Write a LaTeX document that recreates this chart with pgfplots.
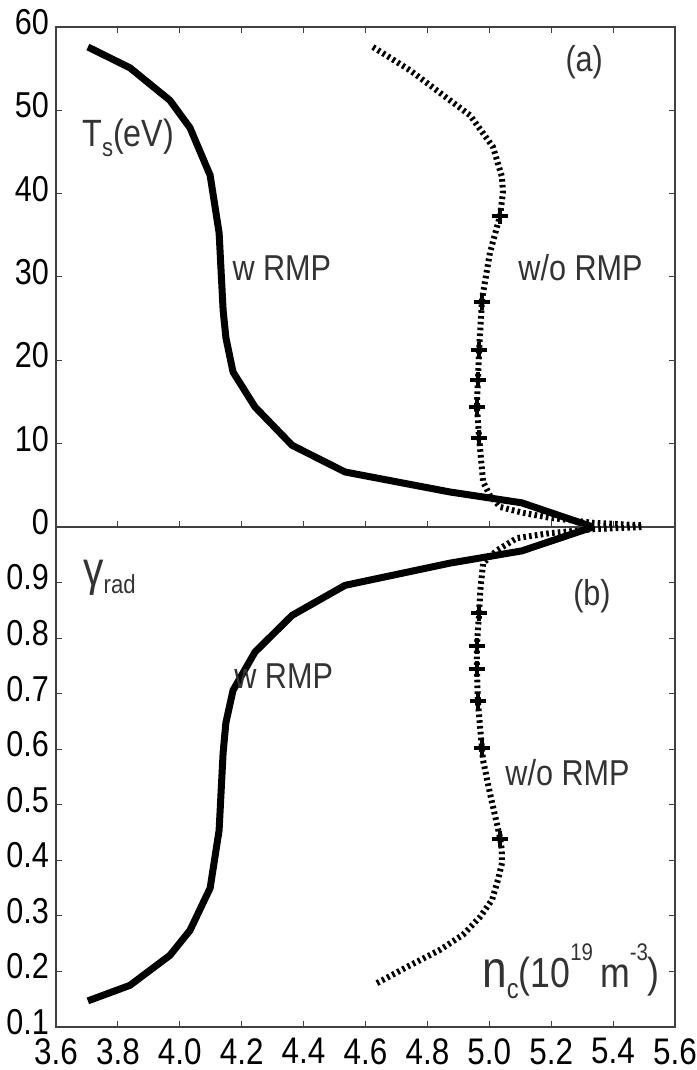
\documentclass[border=0pt]{standalone}
\usepackage{fontspec}
\setmainfont{Liberation Sans}[FakeStretch=0.85]
\usepackage{pgfplots}
\pgfplotsset{compat=1.18}
\definecolor{txt}{HTML}{333333}
\tikzset{lab/.style={anchor=base west, inner sep=0pt, text=txt, font=\fontsize{18}{18}\selectfont}}
\begin{document}
\begin{tikzpicture}
\useasboundingbox (-28pt,-21.5pt) rectangle (320pt,513.5pt);
\pgfplotsset{
  base/.style={
    scale only axis, width=309.5pt, height=250pt,
    xmin=3.6, xmax=5.6, clip=false,
    xtick={3.6,3.8,4.0,4.2,4.4,4.6,4.8,5.0,5.2,5.4,5.6},
    tick align=inside, major tick length=3pt,
    axis line style={line width=0.6pt, black!75},
    tick style={line width=0.5pt, black!75},
    yticklabel style={font=\fontsize{18}{18}\selectfont, text=black, yshift=2.5pt},
    xticklabel style={font=\fontsize{18.5}{18.5}\selectfont, text=black, inner sep=0.5pt, yshift=-5pt},
  },
  wrmp/.style={line width=3.5pt, black, line join=round},
  worm/.style={line width=3pt, black, dash pattern=on 1.3pt off 1.6pt},
  pm/.style={only marks, mark=+, mark size=4pt, mark options={line width=2pt, black}},
}
% ---------- top panel (a) ----------
\begin{axis}[base, at={(0,250pt)}, anchor=south west,
  ymin=0, ymax=60, ytick={0,10,20,30,40,50,60},
  yticklabels={0,10,20,30,40,50,60}, xticklabels={}]
\addplot[wrmp] coordinates {
 (3.703,57.6)(3.839,55.1)(3.968,51.2)(4.033,47.9)(4.098,42.2)(4.127,35.3)
 (4.140,26.0)(4.149,22.7)(4.172,18.6)(4.243,14.4)(4.363,9.8)(4.534,6.6)
 (4.873,4.2)(5.105,2.9)(5.335,0.0)};
\addplot[worm] coordinates {
 (4.624,57.6)(4.744,54.8)(4.873,51.2)(4.938,49.4)(5.012,45.6)(5.041,42.0)
 (5.044,40.1)(5.035,37.4)(5.002,32.9)(4.980,28.1)(4.976,27.0)(4.967,21.2)
 (4.963,17.6)(4.960,14.4)(4.967,10.7)(4.980,5.4)(5.002,3.8)(5.035,2.4)
 (5.109,1.7)(5.196,1.1)(5.335,0.5)(5.497,0.2)};
\addplot[pm] coordinates {
 (5.035,37.3)(4.976,27.0)(4.967,21.2)(4.963,17.6)(4.960,14.4)(4.967,10.7)};
\node[lab] at (axis cs:3.684,45.6) {\fontsize{19}{19}\selectfont T\raisebox{-5pt}{\fontsize{13}{13}\selectfont s}(eV)};
\node[lab] at (axis cs:4.169,29.6) {w RMP};
\node[lab] at (axis cs:5.093,29.6) {w/o RMP};
\node[lab] at (axis cs:5.245,54.6) {(a)};
\end{axis}
% ---------- bottom panel (b) ----------
\begin{axis}[base, at={(0,0)}, anchor=south west,
  ymin=0.1, ymax=1.0, ytick={0.1,0.2,0.3,0.4,0.5,0.6,0.7,0.8,0.9},
  yticklabels={0.1,0.2,0.3,0.4,0.5,0.6,0.7,0.8,0.9},
  xtick pos=left,
  xticklabels={3.6,3.8,4.0,4.2,4.4,4.6,4.8,5.0,5.2,5.4,5.6}]
\addplot[wrmp] coordinates {
 (3.703,0.147)(3.839,0.175)(3.968,0.229)(4.033,0.274)(4.098,0.350)(4.127,0.454)
 (4.140,0.594)(4.149,0.648)(4.172,0.706)(4.243,0.775)(4.363,0.841)(4.534,0.895)
 (4.873,0.935)(5.105,0.957)(5.335,1.0)};
\addplot[worm] coordinates {
 (4.637,0.179)(4.734,0.208)(4.841,0.239)(4.915,0.266)(4.970,0.298)(5.009,0.329)
 (5.028,0.365)(5.041,0.395)(5.040,0.420)(5.035,0.440)(5.002,0.521)(4.980,0.580)(4.976,0.602)
 (4.963,0.687)(4.960,0.744)(4.960,0.787)(4.967,0.845)(4.971,0.886)(4.980,0.935)
 (5.025,0.958)(5.089,0.980)(5.196,0.989)(5.335,0.996)(5.497,1.0)};
\addplot[pm] coordinates {
 (4.967,0.845)(4.960,0.786)(4.960,0.744)(4.963,0.687)(4.976,0.602)(5.035,0.438)};
\node[lab] at (axis cs:3.687,0.895) {\fontsize{24}{24}\selectfont γ\raisebox{-4pt}{\fontsize{13}{13}\selectfont rad}};
\node[lab] at (axis cs:4.175,0.710) {w RMP};
\node[lab] at (axis cs:5.051,0.535) {w/o RMP};
\node[lab] at (axis cs:5.270,0.859) {(b)};
\node[lab] at (axis cs:4.976,0.172) {\fontsize{26}{26}\selectfont n\raisebox{-5.5pt}{\fontsize{14}{14}\selectfont c}\fontsize{21}{21}\selectfont (10\raisebox{13.5pt}{\fontsize{12}{12}\selectfont 19}\,m\raisebox{13.5pt}{\fontsize{12}{12}\selectfont -3})};
\end{axis}
\end{tikzpicture}
\end{document}
